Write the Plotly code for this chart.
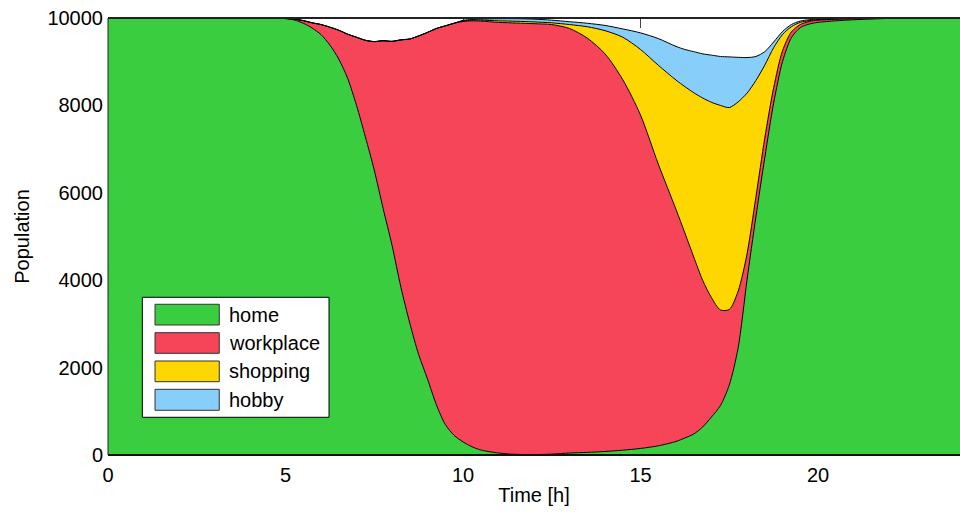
import plotly.graph_objects as go

# Time axis (hours)
time_h = [0, 1, 2, 3, 4, 4.5, 4.75,
          5, 5.25, 5.5, 5.75, 6, 6.25, 6.5, 6.75, 7, 7.25, 7.5, 7.75, 8, 8.25, 8.5, 8.75,
          9, 9.25, 9.5, 9.75, 10, 10.25, 10.5,
          11, 11.5, 12, 12.5, 13, 13.5, 14, 14.5, 15, 15.5, 16,
          16.25, 16.5, 16.75, 17, 17.25, 17.5, 17.75, 18, 18.25, 18.5, 18.75,
          19, 19.25, 19.5, 19.75, 20, 20.5, 21, 22, 23, 24]

home = [10000, 10000, 10000, 10000, 10000, 10000, 10000,
        9985, 9955, 9880, 9770, 9620, 9380, 9060, 8620, 8000, 7280, 6520, 5640, 4800, 3840, 3020, 2300,
        1740, 1150, 700, 450, 300, 190, 115,
        45, 15, 10, 20, 45, 60, 80, 110, 150, 210, 310,
        390, 480, 640, 870, 1130, 1600, 2450, 4000, 5450, 6800, 8050,
        9000, 9550, 9780, 9860, 9900, 9935, 9960, 9990, 10000, 10000]

workplace = [0, 0, 0, 0, 0, 0, 0,
             5, 20, 60, 120, 230, 410, 660, 1010, 1560, 2210, 2940, 3840, 4665, 5660, 6500, 7290,
             7930, 8610, 9120, 9430, 9620, 9745, 9815,
             9855, 9870, 9860, 9830, 9715, 9480, 9100, 8480, 7630, 6450, 5310,
             4690, 4050, 3360, 2730, 2190, 1730, 1300, 600, 450, 450, 350,
             250, 130, 70, 60, 50, 35, 25, 10, 0, 0]

shopping = [0, 0, 0, 0, 0, 0, 0,
            0, 0, 0, 0, 0, 0, 0, 0, 0, 0, 0, 0, 0, 0, 0, 0,
            0, 0, 0, 0, 15, 15, 20,
            35, 40, 40, 40, 90, 260, 530, 970, 1500, 2260, 2960,
            3350, 3760, 4170, 4470, 4680, 4620, 4330, 3680, 2670, 1670, 920,
            370, 120, 50, 20, 15, 10, 5, 0, 0, 0]

hobby = [0, 0, 0, 0, 0, 0, 0,
         0, 0, 0, 0, 0, 0, 0, 0, 0, 0, 0, 0, 0, 0, 0, 0,
         0, 0, 0, 0, 10, 15, 25,
         50, 60, 65, 60, 65, 80, 120, 190, 380, 610, 770,
         850, 940, 1010, 1080, 1120, 1160, 1020, 815, 550, 310, 130,
         70, 50, 30, 20, 15, 10, 10, 0, 0, 0]

x_ticks = [0, 5, 10, 15, 20]
y_ticks = [0, 2000, 4000, 6000, 8000, 10000]

names = ["home", "workplace", "shopping", "hobby"]
colors = ["#3ACD40", "#F64458", "#FFD700", "#87CEFA"]
series = [home, workplace, shopping, hobby]

fig = go.Figure()
for nm, col, vals in zip(names, colors, series):
    fig.add_trace(go.Scatter(
        x=time_h, y=vals, name=nm, mode="lines", stackgroup="one",
        line=dict(color="black", width=1, shape="spline", smoothing=0.8),
        fillcolor=col, showlegend=False,
    ))

font = dict(family="Liberation Sans, Arial, sans-serif", size=20, color="black")

shapes = []
# frame lines
shapes.append(dict(type="line", xref="paper", yref="paper", x0=0, x1=1, y0=1, y1=1,
                   line=dict(color="#222", width=2), layer="above"))
shapes.append(dict(type="line", xref="paper", yref="paper", x0=0, x1=1, y0=0, y1=0,
                   line=dict(color="#111", width=2), layer="above"))
shapes.append(dict(type="line", xref="paper", yref="paper", x0=0, x1=0, y0=0, y1=1,
                   line=dict(color="#222", width=1), layer="above"))
# manual legend
shapes.append(dict(type="rect", xref="paper", yref="paper", x0=0.0403, x1=0.2594, y0=0.0863, y1=0.3609,
                   fillcolor="white", line=dict(color="black", width=1), layer="above"))
sw_y = [(0.2975, 0.3449), (0.2327, 0.2799), (0.1677, 0.2151), (0.1023, 0.1503)]
txt_y = [0.3204, 0.2563, 0.1922, 0.1259]
annotations = []
for (y0, y1), ty, nm, col in zip(sw_y, txt_y, names, colors):
    shapes.append(dict(type="rect", xref="paper", yref="paper", x0=0.0552, x1=0.1306, y0=y0, y1=y1,
                       fillcolor=col, line=dict(color="#333", width=1), layer="above"))
    annotations.append(dict(xref="paper", yref="paper", x=0.1393, y=ty, text=nm, showarrow=False,
                            xanchor="left", yanchor="middle", font=font))

fig.update_layout(
    width=960, height=513,
    margin=dict(l=108, r=0, t=18, b=58),
    paper_bgcolor="white", plot_bgcolor="white",
    font=font,
    shapes=shapes, annotations=annotations,
    xaxis=dict(range=[0, 24], tickvals=x_ticks, ticktext=[str(v) for v in x_ticks],
               ticks="inside", ticklen=10, ticklabelstandoff=6,
               tickcolor="#444", mirror="ticks", showline=False, showgrid=False, zeroline=False,
               layer="below traces", title=dict(text="Time [h]", font=font, standoff=2),
               tickfont=font),
    yaxis=dict(range=[0, 10000], tickvals=y_ticks, ticktext=[str(v) for v in y_ticks],
               ticks="inside", ticklen=10, ticklabelstandoff=4,
               tickcolor="#444", mirror="ticks", showline=False, showgrid=False,
               zeroline=False, layer="below traces",
               title=dict(text="Population", font=font, standoff=12), tickfont=font),
)

fig.write_html("out.html")
